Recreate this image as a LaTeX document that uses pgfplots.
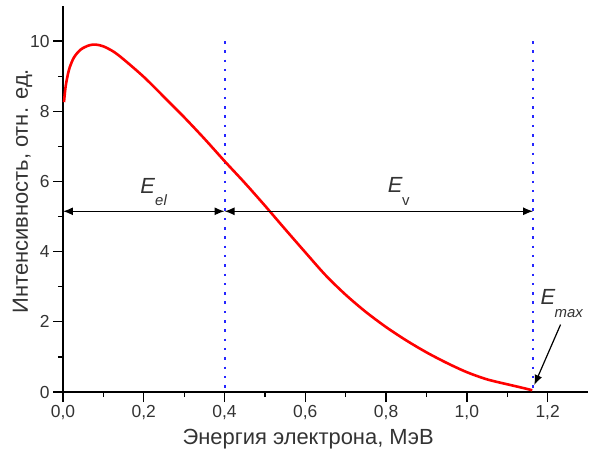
\documentclass[border=0pt]{standalone}
\usepackage{pgfplots}
\pgfplotsset{compat=1.18}
\usepackage{fontspec}
\setmainfont{Liberation Sans}
\usetikzlibrary{arrows.meta}
\definecolor{txt}{RGB}{51,51,51}
\begin{document}
\begin{tikzpicture}
\path[use as bounding box] (-63bp,-63bp) rectangle (537bp,392bp);
\begin{axis}[
  at={(0,0)}, anchor=south west,
  scale only axis, width=525bp, height=386bp,
  xmin=0, xmax=1.3, ymin=0, ymax=11,
  axis lines=left,
  axis line style={-, line width=1.3bp, black},
  tick style={line width=1.3bp, black},
  tick align=outside,
  major tick length=10bp, minor tick length=5bp,
  xtick={0,0.2,...,1.21}, minor x tick num=1,
  ytick={0,2,4,6,8,10}, minor y tick num=1,
  /pgf/number format/assume math mode=true,
  xticklabel style={/pgf/number format/.cd, fixed, fixed zerofill, precision=1, use comma},
  tick label style={font=\fontsize{17.5}{17.5}\selectfont, text=txt},
  xlabel={Энергия электрона, МэВ},
  ylabel={Интенсивность, отн. ед.},
  label style={font=\fontsize{22}{22}\selectfont, text=txt},
  xlabel style={at={(axis description cs:0.467,-0.1373)}, anchor=base},
  ylabel style={at={(axis description cs:-0.0667,0.52)}, anchor=base},
  clip=false,
]
\addplot[blue!85!white, line width=2bp, dash pattern=on 2.5bp off 6.8bp] coordinates {(0.4,10) (0.4,0)};
\addplot[blue!85!white, line width=2bp, dash pattern=on 2.5bp off 6.8bp] coordinates {(1.164,10) (1.164,0)};
\addplot[red, line width=2.6bp, smooth] coordinates {
(0.0025,8.26) (0.0067,8.72) (0.015,9.19) (0.027,9.53) (0.044,9.76) (0.065,9.88) (0.081,9.9)
(0.1,9.85) (0.125,9.7) (0.15,9.48) (0.2,8.98) (0.25,8.41) (0.3,7.83) (0.35,7.22) (0.4,6.58)
(0.45,5.96) (0.5,5.31) (0.55,4.64) (0.6,3.98) (0.65,3.33) (0.7,2.77) (0.75,2.28) (0.8,1.85)
(0.85,1.47) (0.9,1.13) (0.95,0.83) (1.0,0.565) (1.05,0.36) (1.1,0.22) (1.13,0.14) (1.162,0.05)};
\draw[{Latex[length=10bp,width=8bp]}-{Latex[length=10bp,width=8bp]}, line width=1.2bp] (axis cs:0,5.15) -- (axis cs:0.4,5.15);
\draw[{Latex[length=10bp,width=8bp]}-{Latex[length=10bp,width=8bp]}, line width=1.2bp] (axis cs:0.4,5.15) -- (axis cs:1.164,5.15);
\draw[-{Latex[length=10bp,width=8bp]}, line width=1.2bp] (axis cs:1.232,1.92) -- (axis cs:1.167,0.2);
\node[anchor=base west, inner sep=0, text=txt] at (axis cs:0.1913,5.664) {\fontsize{22}{22}\selectfont\itshape E};
\node[anchor=base west, inner sep=0, text=txt] at (axis cs:0.2278,5.31) {\fontsize{15}{15}\selectfont\itshape el};
\node[anchor=base west, inner sep=0, text=txt] at (axis cs:0.804,5.69) {\fontsize{22}{22}\selectfont\itshape E};
\node[anchor=base west, inner sep=0, text=txt] at (axis cs:0.839,5.31) {\fontsize{15}{15}\selectfont v};
\node[anchor=base west, inner sep=0, text=txt] at (axis cs:1.182,2.49) {\fontsize{22}{22}\selectfont\itshape E};
\node[anchor=base west, inner sep=0, text=txt] at (axis cs:1.217,2.12) {\fontsize{15}{15}\selectfont\itshape max};
\end{axis}
\end{tikzpicture}
\end{document}
